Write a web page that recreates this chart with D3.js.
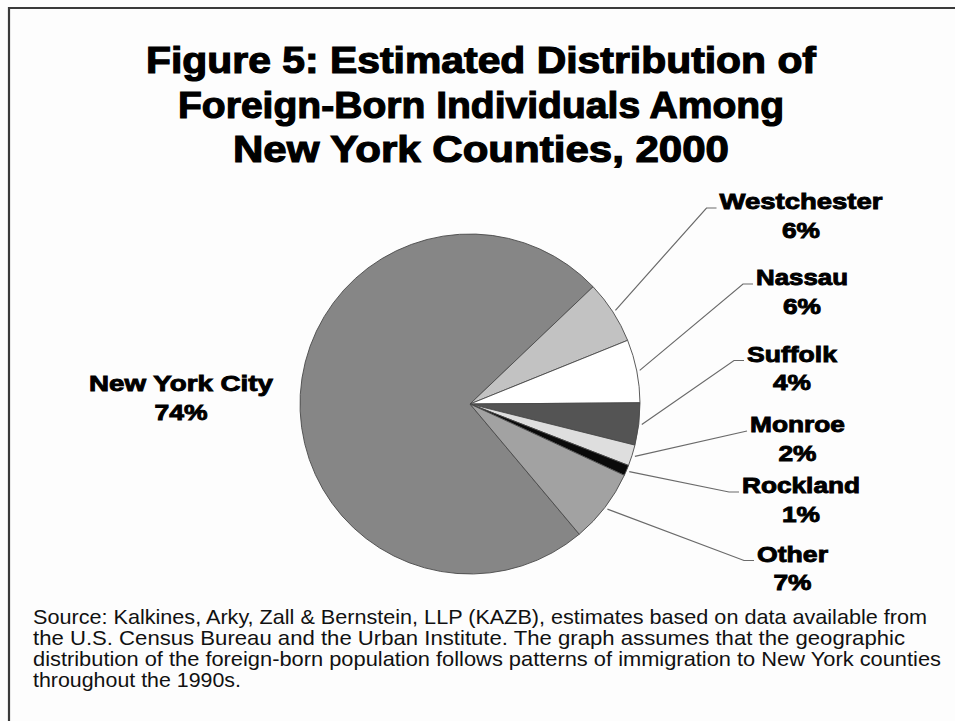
<!DOCTYPE html>
<html>
<head>
<meta charset="utf-8">
<script src="https://cdn.jsdelivr.net/npm/d3@7/dist/d3.min.js"></script>
<style>
  html, body { margin: 0; padding: 0; background: #fdfdfd; }
  svg { display: block; }
</style>
</head>
<body>
<svg id="chart" width="955" height="721"></svg>
<script>
// Foreign-born distribution among New York counties, 2000 (percent)
const categories = ["New York City", "Westchester", "Nassau", "Suffolk", "Monroe", "Rockland", "Other"];
const shares     = [74, 6, 6, 4, 2, 1, 7];
const sliceFills = ["#868686", "#c2c2c2", "#ffffff", "#545454", "#dedede", "#0a0a0a", "#a2a2a2"];

const titleLines = [
  "Figure 5: Estimated Distribution of",
  "Foreign-Born Individuals Among",
  "New York Counties, 2000"
];
const sourceLines = [
  "Source: Kalkines, Arky, Zall & Bernstein, LLP (KAZB), estimates based on data available from",
  "the U.S. Census Bureau and the Urban Institute. The graph assumes that the geographic",
  "distribution of the foreign-born population follows patterns of immigration to New York counties",
  "throughout the 1990s."
];

const svg = d3.select("#chart");
const W = 955, H = 721;

// frame (top and left rules)
svg.append("rect").attr("width", W).attr("height", H).attr("fill", "#fdfdfd");
svg.append("path")
  .attr("d", "M9,721 V8 H955")
  .attr("fill", "none").attr("stroke", "#3a3a3a").attr("stroke-width", 2.2);

// title
const titleLen = [670, 606, 496];
svg.append("g").selectAll("text").data(titleLines).join("text")
  .attr("x", 481)
  .attr("y", (d, i) => 73 + i * 44.5)
  .attr("text-anchor", "middle")
  .attr("font-family", "'Liberation Sans', Arial, sans-serif")
  .attr("font-weight", "bold")
  .attr("font-size", 37.5)
  .attr("fill", "#000").attr("stroke", "#000").attr("stroke-width", 1.2)
  .attr("textLength", (d, i) => titleLen[i])
  .attr("lengthAdjust", "spacingAndGlyphs")
  .text(d => d);

// pie
const cx = 470, cy = 404, R = 170;
const toRad = deg => deg * Math.PI / 180;
const pie = d3.pie().sort(null).value(d => d.v)
  .startAngle(toRad(140)).endAngle(toRad(500));
const arcs = pie(categories.map((c, i) => ({ name: c, v: shares[i], fill: sliceFills[i] })));
const arc = d3.arc().innerRadius(0).outerRadius(R);

const g = svg.append("g").attr("transform", `translate(${cx},${cy})`);
g.selectAll("path").data(arcs).join("path")
  .attr("d", arc)
  .attr("fill", d => d.data.fill)
  .attr("stroke", "#4a4a4a")
  .attr("stroke-width", 0.9)
  .attr("stroke-linejoin", "round");

// data labels: centre x and first-line baseline of each label block
const labelPos = {
  "New York City": { x: 181, y: 391, leader: false },
  "Westchester":   { x: 801, y: 209, leader: true },
  "Nassau":        { x: 802, y: 285, leader: true },
  "Suffolk":       { x: 792, y: 361.5, leader: true },
  "Monroe":        { x: 797.5, y: 432, leader: true, direct: true },
  "Rockland":      { x: 801, y: 493, leader: true },
  "Other":         { x: 792.5, y: 561.5, leader: true }
};

const labelFont = {
  family: "'Liberation Sans', Arial, sans-serif",
  size: 22
};
const nameWidth = {
  "New York City": 184, "Westchester": 163, "Nassau": 92, "Suffolk": 90,
  "Monroe": 95, "Rockland": 118, "Other": 71
};
const lg = svg.append("g");
const lineStep = 28.5;

arcs.forEach(d => {
  const p = labelPos[d.data.name];
  const t = lg.append("text")
    .attr("text-anchor", "middle")
    .attr("font-family", labelFont.family)
    .attr("font-weight", "bold")
    .attr("font-size", labelFont.size)
    .attr("fill", "#000").attr("stroke", "#000").attr("stroke-width", 0.9);
  t.append("tspan").attr("x", p.x).attr("y", p.y)
    .attr("textLength", nameWidth[d.data.name])
    .attr("lengthAdjust", "spacingAndGlyphs")
    .text(d.data.name);
  const pct = d.data.v + "%";
  t.append("tspan").attr("x", p.x).attr("y", p.y + lineStep)
    .attr("textLength", pct.length === 3 ? 53 : 38)
    .attr("lengthAdjust", "spacingAndGlyphs")
    .text(pct);

  if (p.leader) {
    const mid = (d.startAngle + d.endAngle) / 2;
    const r0 = R + 3;
    const sx = cx + r0 * Math.sin(mid), sy = cy - r0 * Math.cos(mid);
    const ex = p.x - nameWidth[d.data.name] / 2 - 3, ey = p.y - 1;
    const pts = p.direct ? [[sx, sy], [ex, ey]] : [[sx, sy], [ex - 10, ey], [ex, ey]];
    lg.append("path")
      .attr("d", d3.line()(pts))
      .attr("fill", "none")
      .attr("stroke", "#6a6a6a")
      .attr("stroke-width", 1.2);
  }
});

// source note
const srcLen = [894, 872, 908, 208];
svg.append("g").selectAll("text").data(sourceLines).join("text")
  .attr("x", 33)
  .attr("y", (d, i) => 623.5 + i * 21.1)
  .attr("font-family", "'Liberation Sans', Arial, sans-serif")
  .attr("font-size", 21)
  .attr("fill", "#111")
  .attr("textLength", (d, i) => srcLen[i])
  .attr("lengthAdjust", "spacingAndGlyphs")
  .text(d => d);
</script>
</body>
</html>
